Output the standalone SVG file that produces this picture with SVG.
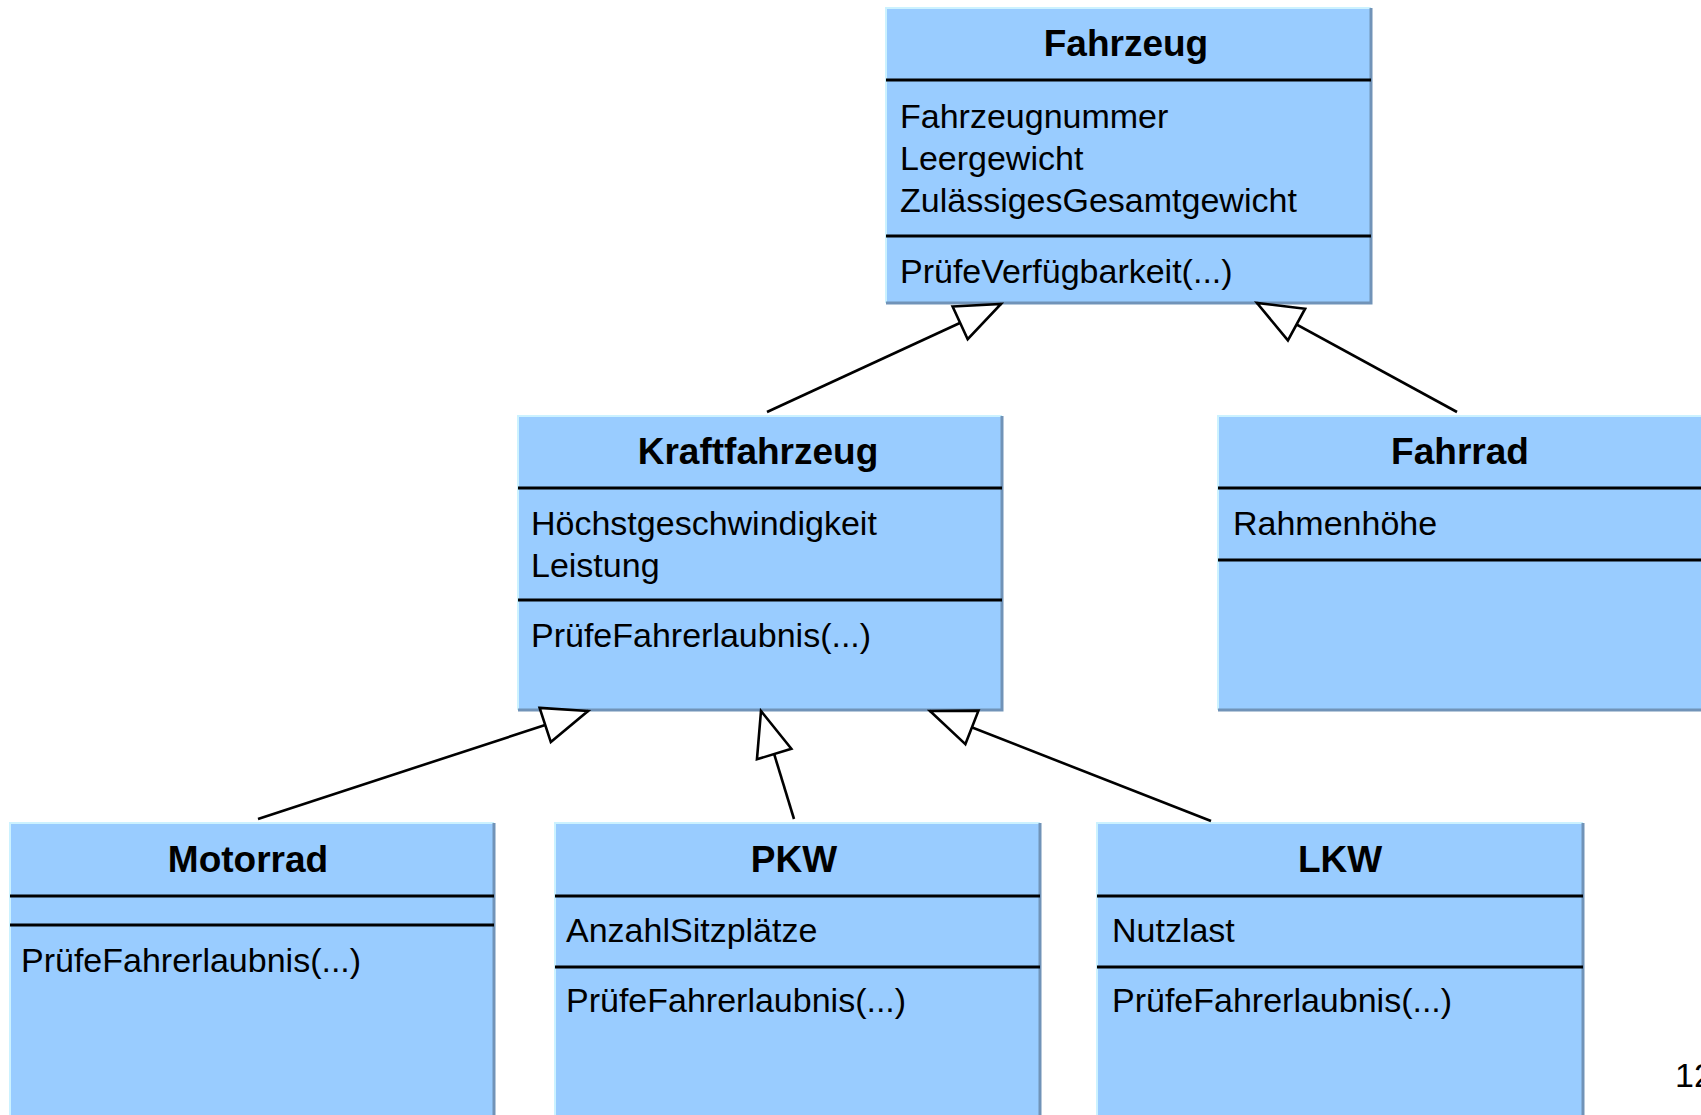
<svg xmlns="http://www.w3.org/2000/svg" width="1701" height="1115" viewBox="0 0 1701 1115">
<style>
  .box { fill: #99ccff; }
  .hi { stroke: #ccf2ff; stroke-width: 2; fill: none; }
  .sh { stroke: #7193b8; stroke-width: 3; fill: none; }
  .div { stroke: #000; stroke-width: 2.8; }
  .title { font-family: "Liberation Sans", Arial, sans-serif; font-weight: bold; font-size: 37px; fill: #000; text-anchor: middle; }
  .txt { font-family: "Liberation Sans", Arial, sans-serif; font-size: 34px; fill: #000; }
  .conn { stroke: #000; stroke-width: 2.6; fill: none; marker-end: url(#gen); }
</style>
<defs>
  <marker id="gen" markerUnits="userSpaceOnUse" markerWidth="60" markerHeight="50" refX="45" refY="18" orient="auto" style="overflow:visible">
    <path d="M0,0 L45,18 L0,36 Z" fill="#fff" stroke="#000" stroke-width="2.6" stroke-linejoin="miter"/>
  </marker>
</defs>
<rect width="1701" height="1115" fill="#fff"/>

<g id="Fahrzeug">
  <rect class="box" x="886" y="8" width="485" height="295"/>
  <path class="hi" d="M886,303 V8 H1371"/>
  <path class="sh" d="M1371,8 V303 H886"/>
  <text class="title" x="1126" y="56">Fahrzeug</text>
  <line class="div" x1="886" y1="80" x2="1371" y2="80"/>
  <text class="txt" x="900" y="128">Fahrzeugnummer</text>
  <text class="txt" x="900" y="170">Leergewicht</text>
  <text class="txt" x="900" y="212">ZulässigesGesamtgewicht</text>
  <line class="div" x1="886" y1="236" x2="1371" y2="236"/>
  <text class="txt" x="900" y="283">PrüfeVerfügbarkeit(...)</text>
</g>

<g id="Kraftfahrzeug">
  <rect class="box" x="518" y="416" width="484" height="294"/>
  <path class="hi" d="M518,710 V416 H1002"/>
  <path class="sh" d="M1002,416 V710 H518"/>
  <text class="title" x="758" y="464">Kraftfahrzeug</text>
  <line class="div" x1="518" y1="488" x2="1002" y2="488"/>
  <text class="txt" x="531" y="535">Höchstgeschwindigkeit</text>
  <text class="txt" x="531" y="577">Leistung</text>
  <line class="div" x1="518" y1="600" x2="1002" y2="600"/>
  <text class="txt" x="531" y="647">PrüfeFahrerlaubnis(...)</text>
</g>

<g id="Fahrrad">
  <rect class="box" x="1218" y="416" width="490" height="294"/>
  <path class="hi" d="M1218,710 V416 H1708"/>
  <path class="sh" d="M1218,710 H1708"/>
  <text class="title" x="1460" y="464">Fahrrad</text>
  <line class="div" x1="1218" y1="488" x2="1708" y2="488"/>
  <text class="txt" x="1233" y="535">Rahmenhöhe</text>
  <line class="div" x1="1218" y1="560" x2="1708" y2="560"/>
</g>

<g id="Motorrad">
  <rect class="box" x="10" y="823" width="484" height="300"/>
  <path class="hi" d="M10,1123 V823 H494"/>
  <path class="sh" d="M494,823 V1123"/>
  <text class="title" x="248" y="872">Motorrad</text>
  <line class="div" x1="10" y1="896" x2="494" y2="896"/>
  <line class="div" x1="10" y1="925" x2="494" y2="925"/>
  <text class="txt" x="21" y="972">PrüfeFahrerlaubnis(...)</text>
</g>

<g id="PKW">
  <rect class="box" x="555" y="823" width="485" height="300"/>
  <path class="hi" d="M555,1123 V823 H1040"/>
  <path class="sh" d="M1040,823 V1123"/>
  <text class="title" x="794" y="872">PKW</text>
  <line class="div" x1="555" y1="896" x2="1040" y2="896"/>
  <text class="txt" x="566" y="942">AnzahlSitzplätze</text>
  <line class="div" x1="555" y1="967" x2="1040" y2="967"/>
  <text class="txt" x="566" y="1012">PrüfeFahrerlaubnis(...)</text>
</g>

<g id="LKW">
  <rect class="box" x="1097" y="823" width="486" height="300"/>
  <path class="hi" d="M1097,1123 V823 H1583"/>
  <path class="sh" d="M1583,823 V1123"/>
  <text class="title" x="1340" y="872">LKW</text>
  <line class="div" x1="1097" y1="896" x2="1583" y2="896"/>
  <text class="txt" x="1112" y="942">Nutzlast</text>
  <line class="div" x1="1097" y1="967" x2="1583" y2="967"/>
  <text class="txt" x="1112" y="1012">PrüfeFahrerlaubnis(...)</text>
</g>

<g id="connectors">
  <line class="conn" x1="767" y1="412" x2="1001" y2="304"/>
  <line class="conn" x1="1457" y1="412" x2="1257" y2="303"/>
  <line class="conn" x1="258" y1="819" x2="588" y2="711"/>
  <line class="conn" x1="794" y1="819" x2="761" y2="711"/>
  <line class="conn" x1="1211" y1="821" x2="930" y2="711"/>
</g>

<text id="pagenum" class="txt" x="1675" y="1087" font-size="36">12</text>
</svg>
